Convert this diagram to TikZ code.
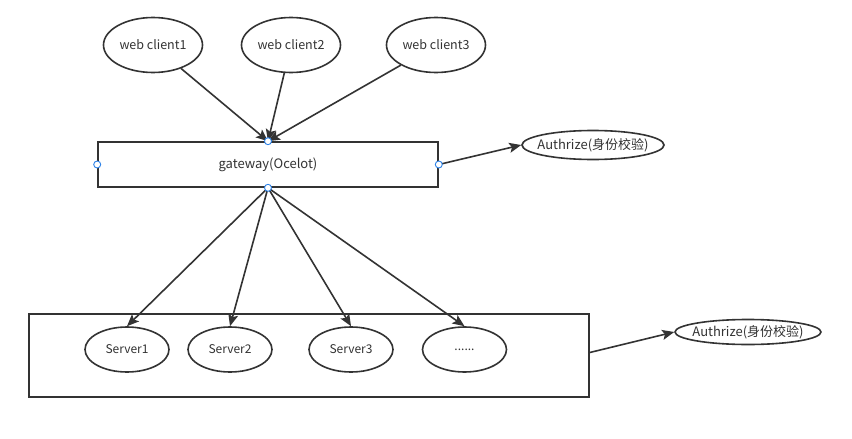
\documentclass[tikz,border=0pt]{standalone}
\usepackage{fontspec}
\setmainfont{Noto Sans CJK SC}
\usetikzlibrary{shapes.geometric,arrows.meta}
\definecolor{ink}{HTML}{333333}
\definecolor{portblue}{HTML}{2C82E8}
\begin{document}
\begin{tikzpicture}[x=1pt,y=-1pt,
  every node/.style={text=ink},
  ell/.style={ellipse,draw=ink,line width=1.6pt,inner sep=0pt},
  client/.style={ell,minimum width=99pt,minimum height=55pt,font=\fontsize{12.5}{15}\selectfont},
  server/.style={ell,minimum width=84pt,minimum height=45pt,font=\fontsize{12}{14}\selectfont},
  auth/.style={ell,minimum width=142pt,minimum height=29pt,inner xsep=-6pt,font=\fontsize{13}{15}\selectfont},
  box/.style={draw=ink,line width=1.6pt,rectangle,inner sep=0pt},
  arr/.style={draw=ink,line width=1.6pt,-{Stealth[length=12pt,width=10pt,inset=2.5pt]}},
  port/.style={circle,draw=portblue,fill=white,line width=0.9pt,minimum size=7pt,inner sep=0pt}
]
\useasboundingbox (0,0) rectangle (852,439);
\fill[white] (0,0) rectangle (852,439);
\node[client] (c1) at (153,45) {web client1};
\node[client] (c2) at (291,45) {web client2};
\node[client] (c3) at (436,45) {web client3};
\node[box,minimum width=340pt,minimum height=45pt,font=\fontsize{13}{15}\selectfont] (gw) at (268,164.5) {gateway(Ocelot)};
\node[auth] (a1) at (593,145) {Authrize(身份校验)};
\node[box,minimum width=560pt,minimum height=83pt] (srv) at (309,355.5) {};
\node[server] (s1) at (127,349.5) {Server1};
\node[server] (s2) at (230,349.5) {Server2};
\node[server] (s3) at (351,349.5) {Server3};
\node[server] (s4) at (464.5,349.5) {......};
\node[auth,minimum width=146pt,minimum height=25pt] (a2) at (748,332) {Authrize(身份校验)};
\draw[arr] (c1) -- (gw.north);
\draw[arr] (c2) -- (gw.north);
\draw[arr] (c3) -- (gw.north);
\draw[arr] (gw.east) -- (a1.west);
\draw[arr] (gw.south) -- (s1.north);
\draw[arr] (gw.south) -- (s2.north);
\draw[arr] (gw.south) -- (s3.north);
\draw[arr] (gw.south) -- (s4.north);
\draw[arr] ([yshift=3pt]srv.east) -- (a2.west);
\node[port] (p1) at (gw.north) {};
\node[port] (p2) at (gw.south) {};
\node[port] (p3) at (gw.west) {};
\node[port] (p4) at (gw.east) {};
\end{tikzpicture}
\end{document}
